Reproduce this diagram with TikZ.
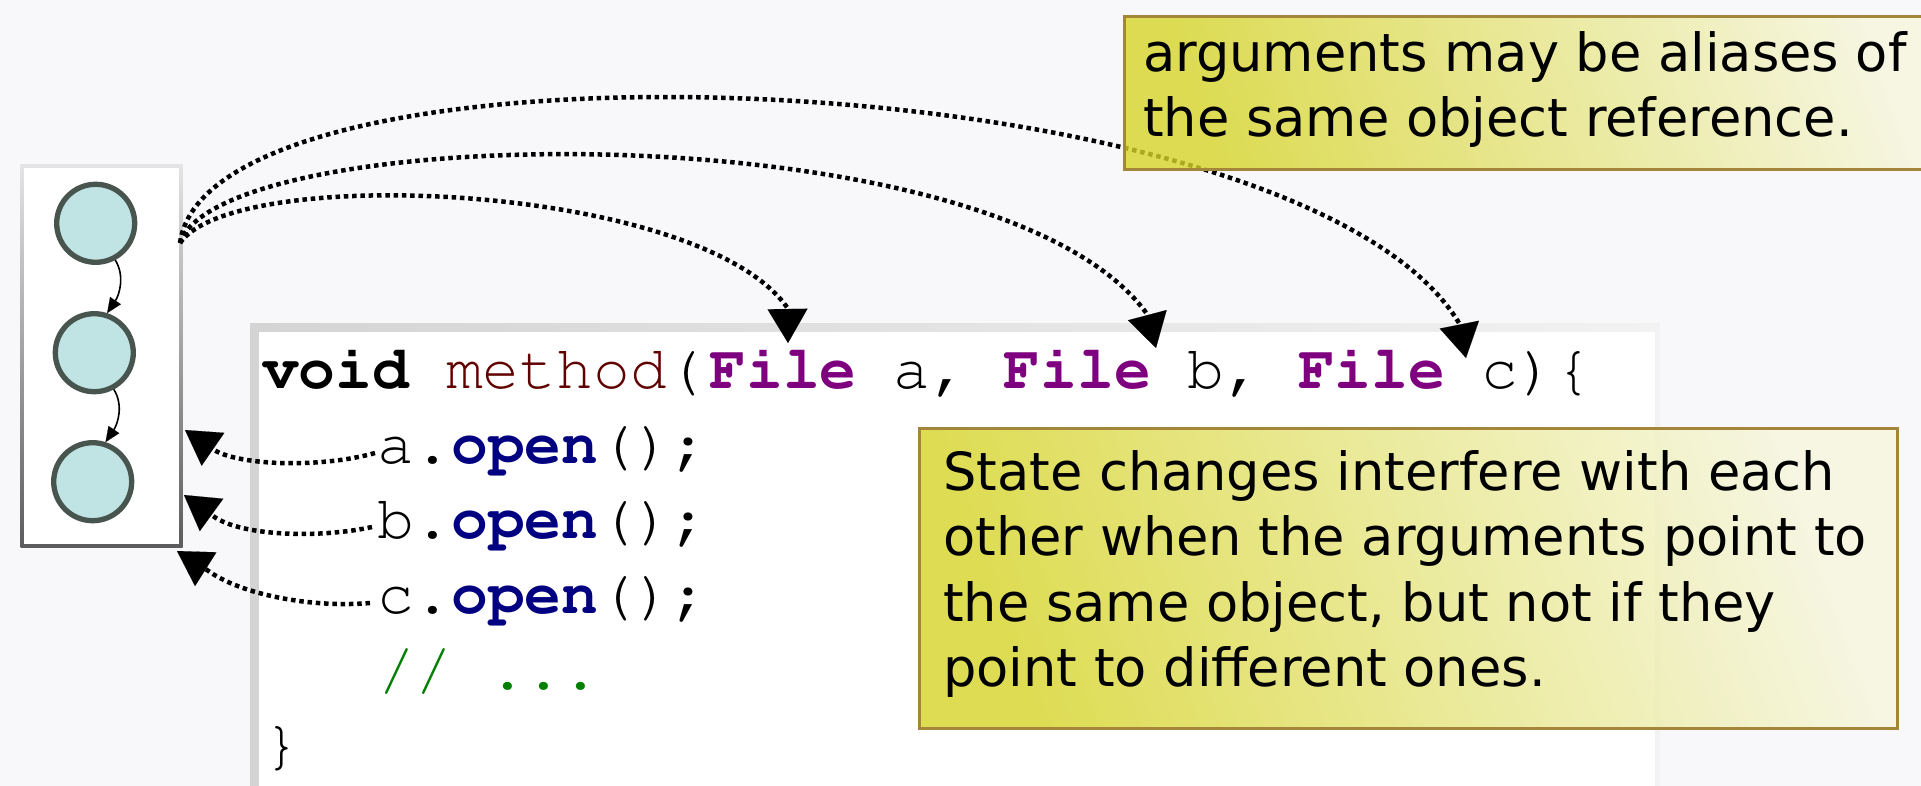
\documentclass[tikz,border=0pt]{standalone}
\usepackage[T1,TU]{fontenc}
\usepackage{fontspec}
\setmainfont{DejaVu Sans}
\usetikzlibrary{arrows.meta}

\definecolor{bgcol}{RGB}{248,248,251}
\definecolor{panelTop}{RGB}{228,228,228}
\definecolor{panelBot}{RGB}{92,92,92}
\definecolor{codeEdgeL}{RGB}{212,212,212}
\definecolor{codeEdgeR}{RGB}{242,242,242}
\definecolor{nodefill}{RGB}{192,228,228}
\definecolor{nodeline}{RGB}{72,84,78}
\definecolor{methodcol}{RGB}{96,0,0}
\definecolor{typecol}{RGB}{127,0,127}
\definecolor{callcol}{RGB}{0,0,128}
\definecolor{commentcol}{RGB}{0,128,0}
\definecolor{noteline}{RGB}{163,134,58}
\definecolor{notedark}{RGB}{214,212,40}
\definecolor{notelight}{RGB}{246,246,220}

% Courier-style code font and sans note font
\newcommand\codefont{\fontencoding{T1}\fontfamily{pcr}\fontseries{m}\fontshape{n}\fontsize{61.3}{75}\selectfont\frenchspacing}
\newcommand\notefont{\fontsize{52.6}{65.5}\selectfont}
\newcommand\codekw[2]{\textcolor{#1}{\bfseries #2}}

\begin{document}
\begin{tikzpicture}[x=1pt,y=-1pt,
  objnode/.style={circle,draw=nodeline,fill=nodefill,line width=5.3pt,minimum size=78pt,inner sep=0pt},
  linkarrow/.style={draw=black,line width=1.6pt,-{Triangle[length=15pt,width=13pt,line width=0.1pt]}},
  refarrow/.style={draw=black,line width=4.5pt,dash pattern=on 4.5pt off 3.8pt,-{Triangle[length=34pt,width=40pt,line width=0.1pt]}},
  codeline/.style={anchor=base west,inner sep=0pt,font=\codefont},
  notebox/.style={anchor=north west,draw=noteline,line width=3pt,top color=notelight,bottom color=notedark,shading angle=-70,fill opacity=0.8,inner sep=0pt},
  notetext/.style={anchor=base west,inner sep=0pt,font=\notefont}]

\useasboundingbox (0,0) rectangle (1921,786);
\fill[bgcol] (0,0) rectangle (1921,786);

% object panel with its three linked objects
\shade[top color=panelTop,bottom color=panelBot] (20.5,165) rectangle (182.5,547);
\fill[white] (24,168.5) rectangle (179,543.5);
\node[objnode] (c1) at (95.7,223.3) {};
\node[objnode] (c2) at (94.3,352.7) {};
\node[objnode] (c3) at (92.7,481.7) {};
\draw[linkarrow] (c1.-62) .. controls +(10,16) and +(12,-18) .. (c2.72);
\draw[linkarrow] (c2.-62) .. controls +(10,16) and +(12,-18) .. (c3.72);

% code panel
\shade[left color=codeEdgeL,right color=codeEdgeR] (250,323) rectangle (1660,800);
\fill[white] (259,332) rectangle (1655,800);

\node[codeline] (l1) at (262,388) {\codekw{black}{void} \textcolor{methodcol}{method}(\kern6pt\codekw{typecol}{File} a, \codekw{typecol}{File} b, \codekw{typecol}{File} c)\{};
\node[codeline] (l2) at (377.5,463) {a.\codekw{callcol}{open}();};
\node[codeline] (l3) at (377.5,538) {b.\codekw{callcol}{open}();};
\node[codeline] (l4) at (377.5,613) {c.\codekw{callcol}{open}();};
\node[codeline,text=commentcol] (l5) at (378.5,689) {// ...};
\node[codeline] (l6) at (263,763) {\}};

% connector end points
\coordinate (hub) at (180,243);
\coordinate (baseA) at (787.5,308);  \coordinate (tipA) at (788,343);
\coordinate (baseB) at (1147,314);   \coordinate (tipB) at (1156,348);
\coordinate (baseC) at (1459,323);   \coordinate (tipC) at (1466,358);
\coordinate (useA) at (375,453);  \coordinate (backA) at (214,450); \coordinate (endA) at (185,430);
\coordinate (useB) at (372,527);  \coordinate (backB) at (213,516); \coordinate (endB) at (184,495);
\coordinate (useC) at (370,603);  \coordinate (backC) at (207,570); \coordinate (endC) at (177,551);

% parameters refer to the objects
\draw[refarrow] (hub) .. controls +(55,-80) and +(-87,-125) .. (baseA) -- (tipA);
\draw[refarrow] (hub) .. controls +(40,-123) and +(-148,-206) .. (baseB) -- (tipB);
\draw[refarrow] (hub) .. controls +(30,-223) and +(-160,-266) .. (baseC) -- (tipC);

% calls act on the objects
\draw[refarrow] (useA) .. controls +(-53,15) and +(27,16) .. (backA) -- (endA);
\draw[refarrow] (useB) .. controls +(-50,11) and +(29,21) .. (backB) -- (endB);
\draw[refarrow] (useC) .. controls +(-58,5) and +(34,25) .. (backC) -- (endC);

% notes
\node[notebox,minimum width=840pt,minimum height=153pt] (note1) at (1122.5,15) {};
\node[notetext] (n1a) at (1143,72) {arguments may be aliases of};
\node[notetext] (n1b) at (1143,137) {the same object reference.};

\node[notebox,minimum width=978pt,minimum height=300pt] (note2) at (918,427) {};
\node[notetext] (n2a) at (943,490) {State changes interfere with each};
\node[notetext] (n2b) at (943,555.5) {other when the arguments point to};
\node[notetext] (n2c) at (943,621) {the same object, but not if they};
\node[notetext] (n2d) at (943,686.5) {point to different ones.};
\end{tikzpicture}
\end{document}
